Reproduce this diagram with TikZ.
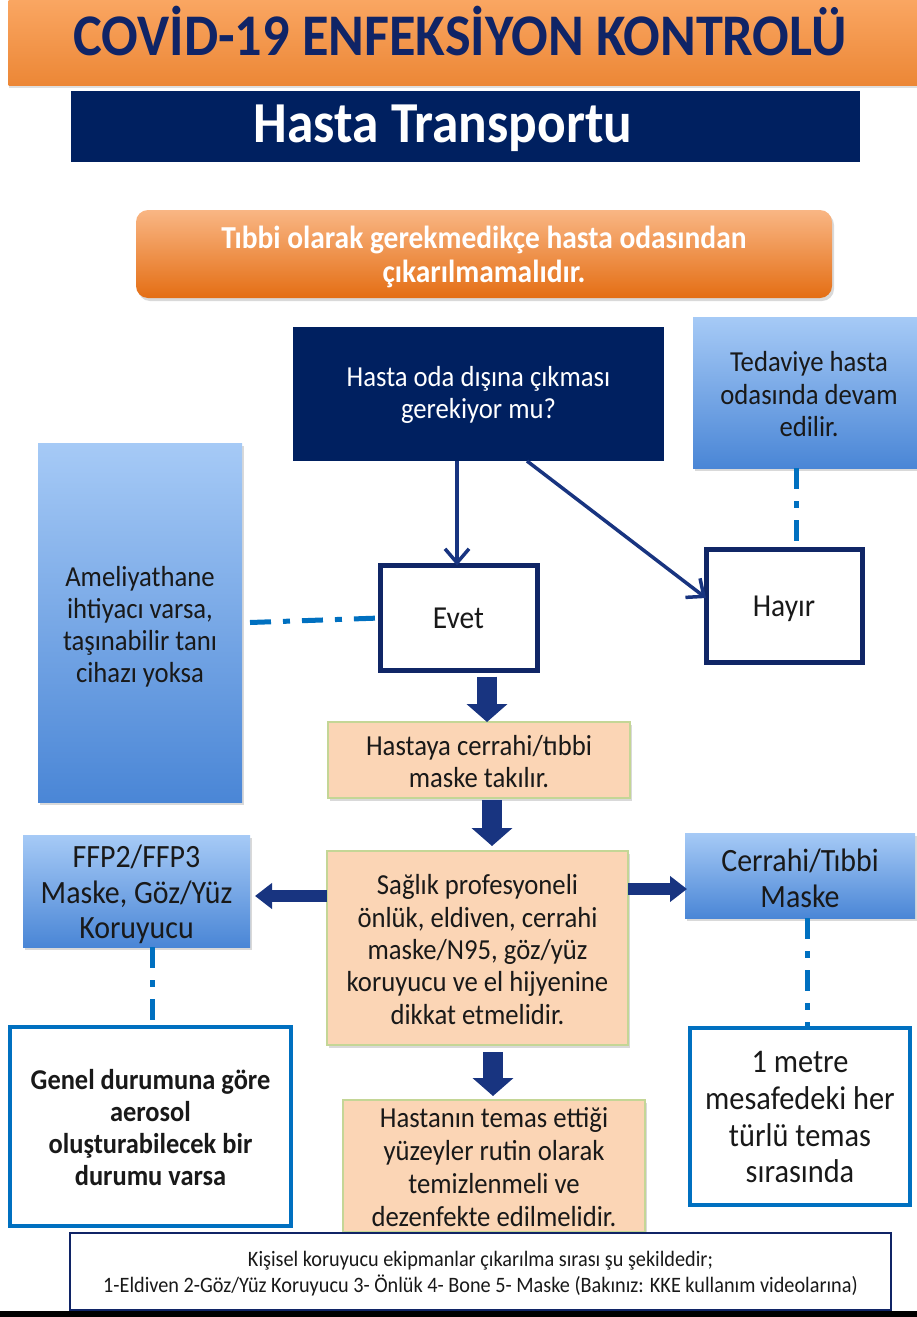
\documentclass[tikz,border=0pt]{standalone}
\usepackage{fontspec}
\setmainfont{Carlito}
\usepackage{graphicx}
\usetikzlibrary{arrows.meta,shadows,calc}

\definecolor{navy}{RGB}{0,32,96}
\definecolor{titlenavy}{RGB}{16,36,102}
\definecolor{ynavy}{RGB}{16,38,102}
\definecolor{arrownavy}{RGB}{24,52,128}
\definecolor{dashblue}{RGB}{0,112,192}
\definecolor{peach}{RGB}{251,213,181}
\definecolor{peachborder}{RGB}{196,214,150}
\definecolor{bluetop}{RGB}{166,202,246}
\definecolor{bluebot}{RGB}{74,134,214}
\definecolor{bandtop}{RGB}{250,166,98}
\definecolor{bandbot}{RGB}{236,135,54}
\definecolor{ortop}{RGB}{249,182,132}
\definecolor{orbot}{RGB}{228,110,20}
\definecolor{textdark}{RGB}{25,25,25}

\newcommand{\tx}[2][5pt]{\raisebox{-#1}[\height][\depth]{\scalebox{0.92}[1]{\begin{tabular}{@{}c@{}}#2\end{tabular}}}}
\newcommand{\fs}[2]{\fontsize{#1}{#2}\selectfont}

\begin{document}
\begin{tikzpicture}[x=1pt,y=-1pt,
  box/.style={inner sep=0pt, outer sep=0pt},
  shadowed/.style={drop shadow={opacity=0.3,shadow xshift=2pt,shadow yshift=-3pt}},
  bluebox/.style={box, shadowed, top color=bluetop, bottom color=bluebot, text=textdark},
  peachbox/.style={box, shadowed, fill=peach, draw=peachborder, line width=1.2pt, text=textdark},
  ynbox/.style={box, fill=white, draw=ynavy, line width=5pt, text=textdark},
  outbox/.style={box, fill=white, draw=dashblue, line width=4.5pt, text=textdark},
  dashdot/.style={draw=dashblue, line width=5pt, dash pattern=on 21pt off 12pt on 7pt off 12pt},
  thinarrow/.style={draw=arrownavy, line width=3.5pt, -{Straight Barb[length=14pt,width=24pt]}},
  blockv/.style={draw=arrownavy, line width=20pt, -{Triangle[length=18pt,width=40pt]}},
  blockh/.style={draw=arrownavy, line width=12pt, -{Triangle[length=17pt,width=25pt]}}
]
\useasboundingbox (0,0) rectangle (917,1317);

% header
\node[box, minimum width=909pt, minimum height=85pt, top color=bandtop, bottom color=bandbot,
      drop shadow={opacity=0.25,shadow xshift=0pt,shadow yshift=-3pt}] (band) at (463,42.5) {};
\node[box, text=titlenavy, font=\bfseries\fs{59}{60}] (title) at (460,40) {\tx[0pt]{COVİD-19 ENFEKSİYON KONTROLÜ}};
\node[box, fill=navy, minimum width=789pt, minimum height=71pt] (sub) at (465.5,126.5) {};
\node[box, text=white, font=\bfseries\fs{58}{60}] (subtext) at (443,130) {\tx[0pt]{Hasta Transportu}};

% orange rounded box
\node[box, shadowed, rounded corners=12pt, top color=ortop, bottom color=orbot, text=white,
      minimum width=696pt, minimum height=88pt, font=\bfseries\fs{32}{34}] (warn) at (484,254)
      {\tx{Tıbbi olarak gerekmedikçe hasta odasından\\çıkarılmamalıdır.}};

% question
\node[box, fill=navy, text=white, minimum width=371pt, minimum height=134pt, font=\fs{29}{32.5}] (q) at (478.5,394)
      {\tx[2pt]{Hasta oda dışına çıkması\\gerekiyor mu?}};

% Tedaviye
\node[bluebox, minimum width=232pt, minimum height=151pt, font=\fs{29}{32.5}] (ted) at (809,392.5)
      {\tx{Tedaviye hasta\\odasında devam\\edilir.}};

% Ameliyathane
\node[bluebox, minimum width=204pt, minimum height=359pt, font=\fs{29}{32}] (amel) at (140,622.5)
      {\tx[6pt]{Ameliyathane\\ihtiyacı varsa,\\taşınabilir tanı\\cihazı yoksa}};

% Evet / Hayir
\node[ynbox, minimum width=157pt, minimum height=105pt, font=\fs{32}{34}] (evet) at (458.5,618) {\tx[4pt]{Evet}};
\node[ynbox, minimum width=156pt, minimum height=113pt, font=\fs{32}{34}] (hayir) at (784,605.5) {\tx[4pt]{Hayır}};

% Hastaya
\node[peachbox, minimum width=302pt, minimum height=76pt, font=\fs{29}{32}] (hastaya) at (479,760)
      {\tx{Hastaya cerrahi/tıbbi\\maske takılır.}};

% Saglik
\node[peachbox, minimum width=301pt, minimum height=194pt, font=\fs{29}{32.3}] (saglik) at (477.5,948)
      {\tx{Sağlık profesyoneli\\önlük, eldiven, cerrahi\\maske/N95, göz/yüz\\koruyucu ve el hijyenine\\dikkat etmelidir.}};

% FFP2
\node[bluebox, minimum width=227pt, minimum height=112pt, font=\fs{32.5}{35.5}] (ffp) at (136.5,891)
      {\tx{FFP2/FFP3\\Maske, Göz/Yüz\\Koruyucu}};

% Cerrahi
\node[bluebox, minimum width=230pt, minimum height=85pt, font=\fs{32.5}{36}] (cer) at (800,875.5)
      {\tx[7pt]{Cerrahi/Tıbbi\\Maske}};

% Genel
\node[outbox, minimum width=281pt, minimum height=199pt, font=\bfseries\fs{28.7}{32}] (genel) at (150.5,1126.5)
      {\tx{Genel durumuna göre\\aerosol\\oluşturabilecek bir\\durumu varsa}};

% 1 metre
\node[outbox, minimum width=220pt, minimum height=177pt, font=\fs{33}{36.7}] (metre) at (800,1116.5)
      {\tx[4pt]{1 metre\\mesafedeki her\\türlü temas\\sırasında}};

% Hastanin
\node[peachbox, minimum width=302pt, minimum height=128pt, font=\fs{29}{33}] (hastanin) at (494,1166)
      {\tx[4pt]{Hastanın temas ettiği\\yüzeyler rutin olarak\\temizlenmeli ve\\dezenfekte edilmelidir.}};

% bottom note
\node[box, fill=white, draw=titlenavy, line width=1.3pt, minimum width=821pt, minimum height=77pt,
      text=textdark, font=\fs{22}{25}] (note) at (480.5,1271.5)
      {\tx[3pt]{Kişisel koruyucu ekipmanlar çıkarılma sırası şu şekildedir;\\1-Eldiven 2-Göz/Yüz Koruyucu 3- Önlük 4- Bone 5- Maske (Bakınız: KKE kullanım videolarına)}};
\fill[black] (0,1311) rectangle (917,1317);

% connectors
\coordinate (cq1) at (457,0);
\coordinate (cq2) at (527,0);
\coordinate (cy) at (0,598);
\draw[thinarrow] (q.south -| cq1) -- (evet.north -| cq1);
\draw[thinarrow] (q.south -| cq2) -- (hayir.west |- cy);

\coordinate (cd1) at (796,0);
\draw[dashdot] (ted.south -| cd1) -- (hayir.north -| cd1);
\draw[dashdot] ([xshift=8pt]amel.east) -- (evet.west);

\coordinate (ca1) at (487,0);
\coordinate (ca2) at (492,0);
\coordinate (ca3) at (493,0);
\draw[blockv, shorten <=6pt] (evet.south -| ca1) -- (hastaya.north -| ca1);
\draw[blockv, shorten <=2pt, shorten >=5pt] (hastaya.south -| ca2) -- (saglik.north -| ca2);
\draw[blockv, shorten <=7pt, shorten >=4pt] (saglik.south -| ca3) -- (hastanin.north -| ca3);

\coordinate (hl) at (0,896);
\coordinate (hr) at (0,889);
\draw[blockh, shorten >=5pt] (saglik.west |- hl) -- (ffp.east |- hl);
\draw[blockh, shorten >=-2pt] (saglik.east |- hr) -- (cer.west |- hr);

\coordinate (cf) at (152,0);
\coordinate (cc) at (807,0);
\draw[dashdot] (ffp.south -| cf) -- (genel.north -| cf);
\draw[dashdot] (cer.south -| cc) -- (metre.north -| cc);
\end{tikzpicture}
\end{document}
